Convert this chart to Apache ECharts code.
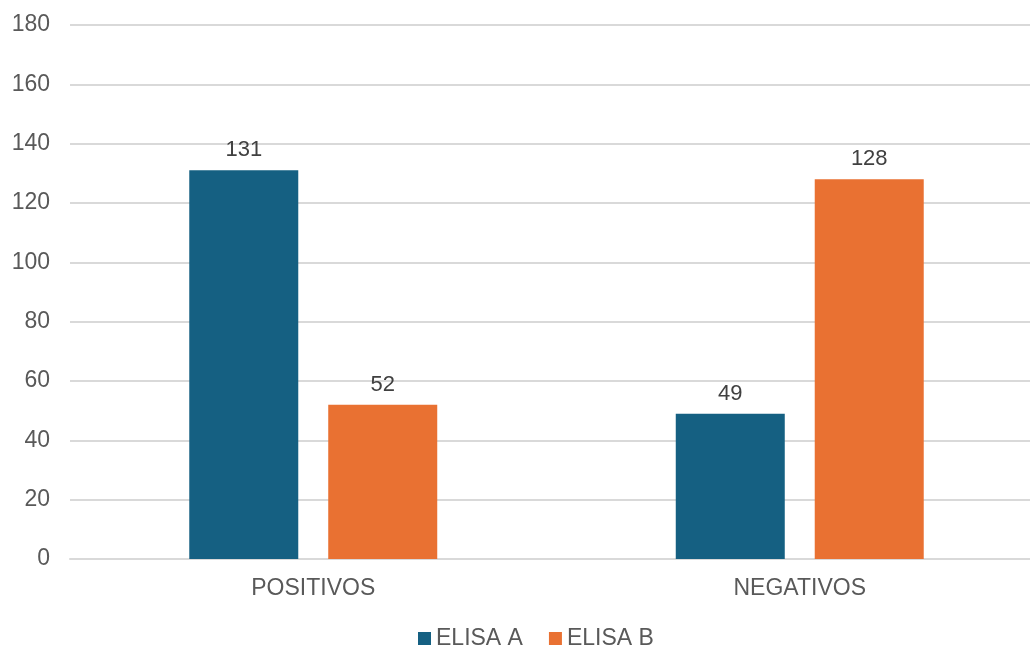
<!DOCTYPE html>
<html>
<head>
<meta charset="utf-8">
<script src="https://cdn.jsdelivr.net/npm/echarts@6/dist/echarts.min.js"></script>
<style>
  html, body { margin: 0; padding: 0; background: #fff; }
  #chart { width: 1030px; height: 648px; }
</style>
</head>
<body>
<div id="chart"></div>
<script>
// categories and series
const categories = ['POSITIVOS', 'NEGATIVOS']
const elisaA = [131, 49]
const elisaB = [52, 128]
const seriesNames = ['ELISA A', 'ELISA B']
const colors = ['#156082', '#E97132']

const font = '"Liberation Sans", Arial, sans-serif'

const chart = echarts.init(document.getElementById('chart'))

const barLabel = {
  show: true,
  position: 'top',
  distance: 9,
  color: '#404040',
  fontSize: 22,
  fontFamily: font,
}

chart.setOption({
  animation: false,
  textStyle: { fontFamily: font },
  grid: {
    left: 70,
    top: 25,
    width: 973,
    height: 534,
    outerBoundsMode: 'none',
  },
  legend: {
    top: 622,
    left: 413,
    itemWidth: 13,
    itemHeight: 13,
    itemGap: 26,
    icon: 'rect',
    textStyle: { color: '#595959', fontSize: 23, fontFamily: font },
    data: seriesNames,
  },
  xAxis: {
    type: 'category',
    data: categories,
    axisLine: { show: true, lineStyle: { color: '#D9D9D9', width: 2 } },
    axisTick: { show: false },
    axisLabel: { color: '#595959', fontSize: 23, fontFamily: font, margin: 18 },
  },
  yAxis: {
    type: 'value',
    min: 0,
    max: 180,
    interval: 20,
    axisLine: { show: false },
    axisTick: { show: false },
    axisLabel: { color: '#595959', fontSize: 23, fontFamily: font, margin: 20 },
    splitLine: { lineStyle: { color: '#D9D9D9', width: 2 } },
  },
  series: [
    {
      name: seriesNames[0],
      type: 'bar',
      data: elisaA,
      barWidth: 109,
      barGap: '27.5%',
      itemStyle: { color: colors[0] },
      label: barLabel,
    },
    {
      name: seriesNames[1],
      type: 'bar',
      data: elisaB,
      barWidth: 109,
      barGap: '27.5%',
      itemStyle: { color: colors[1] },
      label: barLabel,
    },
  ],
})
</script>
</body>
</html>
